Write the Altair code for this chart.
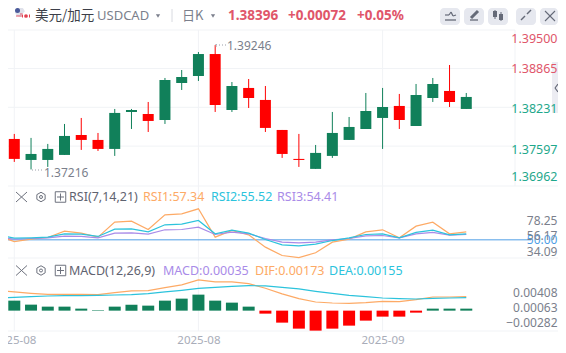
import altair as alt
import pandas as pd

# ---------- values ----------
candle_idx = list(range(28))
highs = [1.37796,1.37731,1.37633,1.37959,1.38057,1.37812,1.38204,1.38204,1.38318,1.38710,1.38840,1.39134,1.39246,1.38644,1.38693,1.38579,1.37861,1.37796,1.37616,1.38155,1.38073,1.38465,1.38547,1.38449,1.38612,1.38710,1.38922,1.38465]
lows = [1.37339,1.37216,1.37257,1.37453,1.37535,1.37518,1.37437,1.37877,1.37828,1.37959,1.38514,1.38661,1.38155,1.38155,1.38220,1.37828,1.37404,1.37257,1.37225,1.37404,1.37698,1.37877,1.37551,1.37877,1.37926,1.38318,1.38236,1.38204]
opens = [1.37714,1.37371,1.37371,1.37453,1.37779,1.37698,1.37551,1.38155,1.38122,1.38024,1.38628,1.38742,1.39101,1.38187,1.38547,1.38351,1.37861,1.37388,1.37225,1.37437,1.37698,1.37877,1.38057,1.38253,1.37926,1.38383,1.38498,1.38204]
closes = [1.37388,1.37469,1.37551,1.37763,1.37698,1.37551,1.38139,1.38187,1.38008,1.38677,1.38726,1.39101,1.38269,1.38579,1.38383,1.37894,1.37469,1.37371,1.37486,1.37812,1.37910,1.38171,1.38236,1.38024,1.38432,1.38612,1.38318,1.38400]

ind_idx = list(range(-1, 28))
rsi1 = [56.2,47.6,51.0,53.3,62.4,59.5,53.8,75.2,76.6,64.7,85.6,87.1,94.2,53.8,63.3,57.1,39.6,27.7,24.8,31.5,46.7,51.0,61.4,64.3,52.9,69.5,75.2,58.6,61.4]
rsi2 = [57.1,52.4,52.9,53.8,58.6,58.1,54.8,65.2,65.7,61.4,71.4,72.3,77.6,58.6,63.8,59.5,50.5,42.9,41.5,43.8,49.0,52.9,57.6,58.6,52.9,60.5,63.8,57.1,58.6]
rsi3 = [53.8,51.0,51.9,52.9,55.2,54.8,52.9,59.5,60.0,58.1,64.3,64.7,68.1,57.6,60.9,58.6,51.9,46.7,45.7,46.7,50.0,51.9,55.7,56.2,52.9,58.6,60.5,56.7,57.6]
macd = [.00391,.00230,.00138,.00092,.00092,.00046,.00012,.00092,.00138,.00115,.00230,.00276,.00368,.00230,.00184,.00092,-.00069,-.00276,-.00414,-.00460,-.00414,-.00345,-.00230,-.00138,-.00138,-.00046,.00046,.00046,.00046]
dif = [.00460,.00430,.00399,.00376,.00376,.00376,.00368,.00414,.00453,.00460,.00529,.00591,.00706,.00660,.00660,.00621,.00514,.00384,.00276,.00199,.00176,.00169,.00184,.00215,.00207,.00253,.00314,.00314,.00322]
dea = [.00284,.00307,.00322,.00337,.00345,.00345,.00353,.00360,.00368,.00391,.00430,.00468,.00514,.00537,.00560,.00575,.00568,.00537,.00499,.00445,.00399,.00353,.00322,.00291,.00276,.00268,.00284,.00291,.00299]

price_ticks = [1.39500,1.38865,1.38231,1.37597,1.36962]
rsi_ticks = [78.25,56.17,50.00,34.09]
macd_ticks = [0.00408,0.00063,-0.00282]
date_ticks = [0,11,22]

GREEN, RED = "#11805a", "#ff0000"
ORANGE, TEAL, PURPLE, BLUE = "#fdaa66", "#2cc3dc", "#a98be8", "#4f9fe6"
GRID, GRAY = "#f1f3f6", "#7b7f8c"
FONT = "Noto Sans"
OX, OY = 8, 8  # page margin
W, H = 550, 337

x_scale = alt.Scale(domain=[-0.376, (W-6.3)/16.74], nice=False, zero=False, padding=0)
price_scale = alt.Scale(domain=[1.36962,1.39500], range=[177.0,21.6], nice=False, zero=False)
rsi_scale = alt.Scale(domain=[34.09,78.25], range=[243,212], nice=False, zero=False)
macd_scale = alt.Scale(domain=[-0.00282,0.00408], range=[314.9,284.9], nice=False, zero=False)

cd = pd.DataFrame(dict(i=candle_idx, h=highs, l=lows, o=opens, c=closes))
cd["dir"] = ["up" if c >= o else "down" for o, c in zip(opens, closes)]
ind = pd.DataFrame(dict(i=ind_idx, r1=rsi1, r2=rsi2, r3=rsi3, m=macd, dif=dif, dea=dea))
ind["zero"] = 0.0
ind["dir"] = ["up" if v >= 0 else "down" for v in macd]
dir_color = alt.Color("dir:N", scale=alt.Scale(domain=["up","down"], range=[GREEN,RED]), legend=None)
x_axis = alt.Axis(values=date_ticks, orient="bottom", offset=-13, grid=False, domain=False, ticks=False,
    labelExpr="datum.value == 22 ? '2025-09' : '2025-08'", labelFont=FONT, labelFontSize=11.5,
    labelColor="#a9adb9", labelPadding=2, title=None, labelBound=False, labelFlush=False, labelOverlap=False)
X = alt.X("i:Q", scale=x_scale, axis=x_axis)

def rule(x1, y1, x2, y2, color=GRID, w=1.0, dash=None):
    kw = dict(color=color, strokeWidth=w)
    if dash: kw["strokeDash"] = dash
    return alt.Chart(pd.DataFrame({"a":[0]})).mark_rule(**kw).encode(
        x=alt.value(x1-OX), x2=alt.value(x2-OX), y=alt.value(y1-OY), y2=alt.value(y2-OY))

def box(x1, y1, x2, y2, color, r=0, **kw):
    return alt.Chart(pd.DataFrame({"a":[0]})).mark_rect(color=color, cornerRadius=r, **kw).encode(
        x=alt.value(x1-OX), x2=alt.value(x2-OX), y=alt.value(y1-OY), y2=alt.value(y2-OY))

def txt(s, x, y, color=GRAY, size=12, weight="normal", font=FONT, align="left"):
    return alt.Chart(pd.DataFrame({"t":[s]})).mark_text(
        align=align, baseline="middle", color=color, fontSize=size, fontWeight=weight, font=font
    ).encode(text="t:N", x=alt.value(x-OX), y=alt.value(y-OY))

def sym(x, y, shape, size, color, filled=True, w=1.0):
    return alt.Chart(pd.DataFrame({"a":[0]})).mark_point(
        shape=shape, size=size, color=color, filled=filled, opacity=1, strokeWidth=w
    ).encode(x=alt.value(x-OX), y=alt.value(y-OY))

layers = []

# right collapse tab (cut by the page edge), under the axis labels
layers += [box(552,62,558,113,"#ececf2"),
           rule(558,84,555,88,"#656a78",1.2), rule(555,88,558,92,"#656a78",1.2)]

# frame and grid
for a in [(8,30,515,30),(8,186,558,186),(8,258,558,258),(8,331,558,331),(515,30,515,186)]:
    layers.append(rule(*a))
grid_price = alt.Chart(pd.DataFrame({"p":price_ticks[1:4]})).mark_rule(color=GRID).encode(
    y=alt.Y("p:Q", scale=price_scale, axis=None), x=alt.value(0), x2=alt.value(515-OX))
layers.append(grid_price)
layers.append(alt.Chart(pd.DataFrame({"i":date_ticks})).mark_rule(color=GRID).encode(
    x=X, y=alt.value(30-OY), y2=alt.value(331-OY)))

# price axis
price_axis = alt.Axis(values=price_ticks, orient="right", domain=False, ticks=False, grid=False, title=None,
    labelExpr="format(datum.value,'.5f')", labelFont=FONT, labelFontSize=12.5, labelAlign="right", labelPadding=-1,
    labelColor={"condition":{"test":"datum.value>1.385","value":"#e0566a"},"value":"#1fa88c"},
    labelOffset={"condition":[{"test":"datum.value>1.39","value":8.4},
                              {"test":"datum.value<1.37","value":-9},
                              {"test":"datum.value<1.38","value":3},
                              {"test":"datum.value<1.385","value":1.5}],"value":0.5},
    labelOverlap=False, labelBound=False, labelFlush=False, zindex=1)
layers.append(alt.Chart(cd).mark_rule(strokeWidth=1).encode(
    x=X, y=alt.Y("l:Q", scale=price_scale, axis=price_axis), y2="h:Q", color=dir_color))
layers.append(alt.Chart(cd).mark_bar(size=11, stroke=None).encode(
    x=X, y=alt.Y("o:Q", scale=price_scale, axis=None), y2="c:Q", color=dir_color))

# high/low notes
layers += [rule(216,45,226,45,"#9a9ea8",1,[1,2]), rule(216,44,216,48,"#9a9ea8",1,[1,1]),
           rule(32,170,42,170,"#9a9ea8",1,[1,2]),
           txt("1.39246",227,46), txt("1.37216",44,172.5)]

# RSI
rsi_axis = alt.Axis(values=rsi_ticks, orient="right", domain=False, ticks=False, grid=False, title=None,
    labelExpr="format(datum.value,'.2f')", labelFont=FONT, labelFontSize=12, labelAlign="right", labelPadding=-1,
    labelColor={"condition":{"test":"datum.value==50","value":BLUE},"value":GRAY},
    labelOverlap=False, labelBound=False, labelFlush=False, zindex=1)
layers.append(alt.Chart(pd.DataFrame({"v":[50.0]})).mark_rule(color=BLUE, strokeWidth=1).encode(
    y=alt.Y("v:Q", scale=rsi_scale, axis=rsi_axis), x=alt.value(0), x2=alt.value(531-OX)))
for col, c in (("r1",ORANGE),("r3",PURPLE),("r2",TEAL)):
    layers.append(alt.Chart(ind).mark_line(color=c, strokeWidth=1.2, interpolate="linear").encode(
        x=X, y=alt.Y(col+":Q", scale=rsi_scale, axis=None)))

# MACD
macd_axis = alt.Axis(values=macd_ticks, orient="right", domain=False, ticks=False, grid=False, title=None,
    labelExpr="format(datum.value,'.5f')", labelFont=FONT, labelFontSize=12, labelAlign="right", labelPadding=-1,
    labelColor=GRAY, labelOverlap=False, labelBound=False, labelFlush=False, zindex=1)
layers.append(alt.Chart(ind).mark_bar(size=12, stroke=None).encode(
    x=X, y=alt.Y("zero:Q", scale=macd_scale, axis=macd_axis), y2="m:Q", color=dir_color))
for col, c in (("dif",ORANGE),("dea",TEAL)):
    layers.append(alt.Chart(ind).mark_line(color=c, strokeWidth=1.2).encode(
        x=X, y=alt.Y(col+":Q", scale=macd_scale, axis=None)))

# header
HY = 16
layers += [
    sym(20,12,"circle",90,"#dfe1ea"), sym(17.5,10.5,"circle",25,"#4a5a9a"),
    rule(20,14,25,14,"#e0566a",1), rule(16,16,23,16,"#e0566a",1),
    sym(26,16,"circle",70,"#ffffff"), sym(26,16,"circle",14,"#e24050"),
    rule(22,16,23,16,"#e24050",3), rule(29,16,30,16,"#e24050",3),
    txt("美元/加元",35,HY,"#3c3f49",13.5,font="Noto Sans CJK SC"),
    txt("USDCAD",97,HY,"#7b7f8c",13),
    sym(158,HY,"triangle-down",18,"#7b7f8c"),
    rule(172,9,172,22,"#d8dae0"),
    txt("日K",182,HY,"#7b7f8c",13,font="Noto Sans CJK SC"),
    sym(213,HY,"triangle-down",18,"#7b7f8c"),
    txt("1.38396",228,HY,"#e0566a",13.5,"bold"),
    txt("+0.00072",288,HY,"#e0566a",13.5,"bold"),
    txt("+0.05%",357,HY,"#e0566a",13.5,"bold"),
]
# toolbar buttons
for bx in (440,464,488,516,540):
    layers.append(box(bx,8,min(bx+20,558),25,"#e6e8ef",4))
layers += [
    rule(445,20,456,20,"#656a78",1.3), rule(445,15,449,15,"#656a78",1.2), rule(449,15,451,12,"#656a78",1.2),
    rule(451,12,453,16,"#656a78",1.2), rule(453,16,456,15,"#656a78",1.2),
    rule(470,20,478,20,"#656a78",1.3), rule(471,18,478,11,"#656a78",3),
    rule(495,10,495,19,"#656a78",1), rule(495,11,495,17,"#656a78",4),
    rule(501,12,501,21,"#656a78",1), rule(501,14,501,20,"#656a78",4),
    rule(521,20,525,16,"#656a78",1.5), rule(527,14,531,10,"#656a78",1.5),
    rule(545,11,555,21,"#656a78",1.1), rule(555,11,545,21,"#656a78",1.1),
]

# indicator legends
hexagon = "M0,-1L0.87,-0.5L0.87,0.5L0,1L-0.87,0.5L-0.87,-0.5Z"
for y in (197,270.5):
    layers += [
        rule(16,y-5,27,y+5,"#6d717d",1), rule(27,y-5,16,y+5,"#6d717d",1),
        sym(41,y,hexagon,90,"#6d717d",False,1), sym(41,y,"circle",9,"#6d717d",False,1),
        sym(60.5,y,"square",110,"#6d717d",False,1),
        rule(57,y,64,y,"#6d717d",1), rule(60.5,y-3.5,60.5,y+3.5,"#6d717d",1),
    ]
layers += [
    txt("RSI(7,14,21)",69,197,"#5f6370",12.5),
    txt("RSI1:57.34",143,197,ORANGE,12.5), txt("RSI2:55.52",211,197,TEAL,12.5), txt("RSI3:54.41",277,197,PURPLE,12.5),
    txt("MACD(12,26,9)",69,270.5,"#5f6370",12.5),
    txt("MACD:0.00035",163,270.5,PURPLE,12.5), txt("DIF:0.00173",255,270.5,ORANGE,12.5), txt("DEA:0.00155",329,270.5,TEAL,12.5),
]

chart = alt.layer(*layers).resolve_scale(y="independent").properties(
    width=W, height=H, autosize=alt.AutoSizeParams(type="none"), padding=0, background="white"
).configure_view(stroke=None)

chart.save("out.html", embed_options={"renderer": "svg", "actions": False})
